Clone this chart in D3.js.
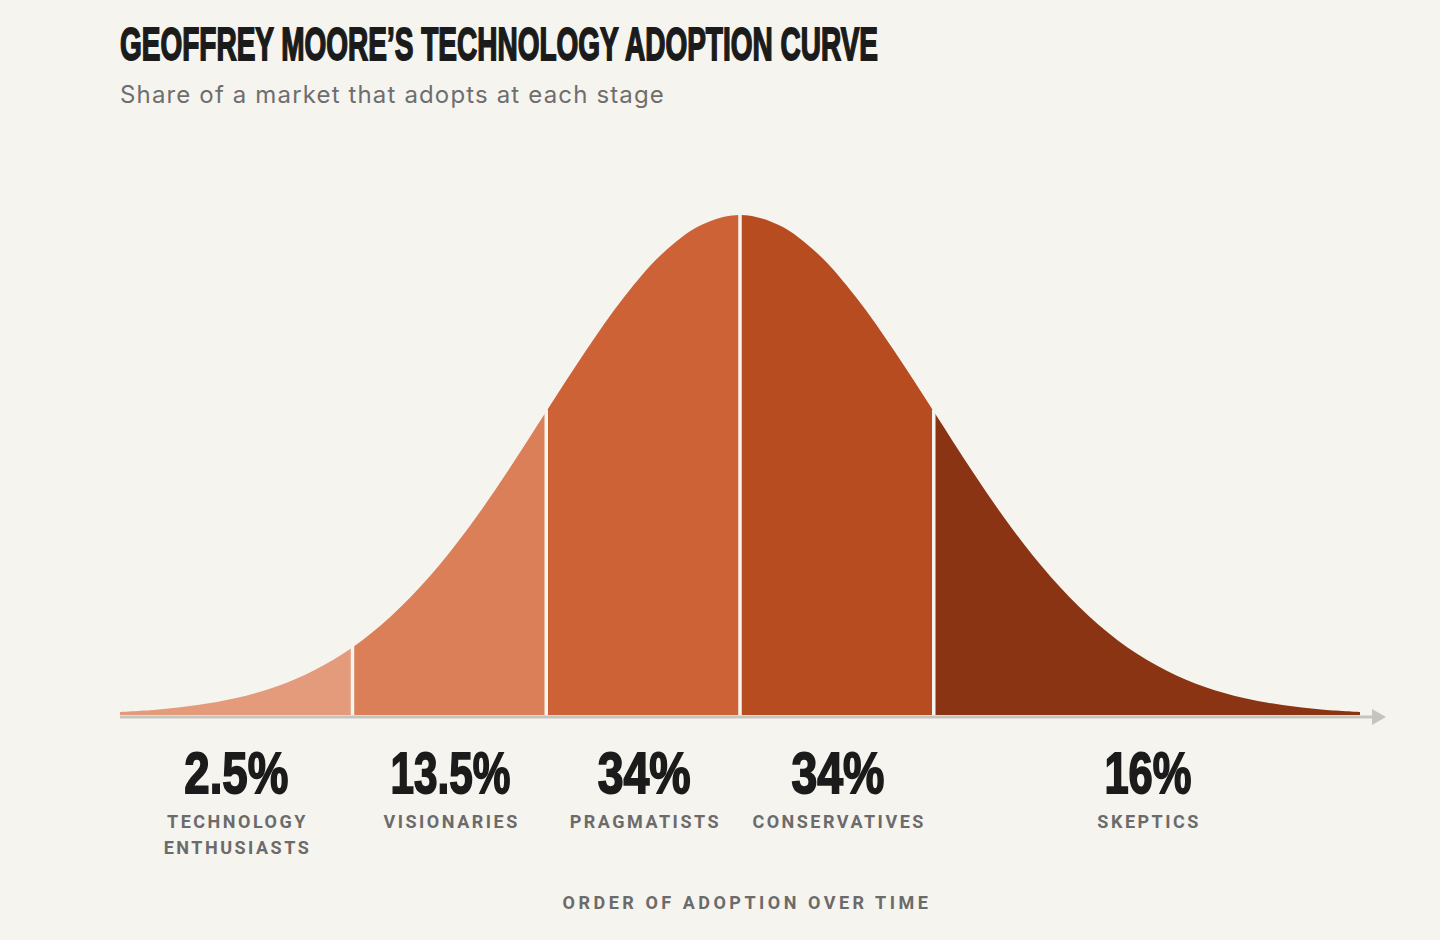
<!DOCTYPE html>
<html>
<head>
<meta charset="utf-8">
<script src="https://cdn.jsdelivr.net/npm/d3@7"></script>
<style>
  html, body { margin: 0; padding: 0; background: #f6f4ee; }
  svg { display: block; }
</style>
</head>
<body>
<svg width="1440" height="940"></svg>
<script>
// Curve height (share of peak, %) read at steps of one fifth of a standard deviation
const zSteps = [-3.2, -3.0, -2.8, -2.6, -2.4, -2.2, -2.0, -1.8, -1.6, -1.4, -1.2, -1.0, -0.8, -0.6, -0.4, -0.2, 0,
                0.2, 0.4, 0.6, 0.8, 1.0, 1.2, 1.4, 1.6, 1.8, 2.0, 2.2, 2.4, 2.6, 2.8, 3.0, 3.2];
const heights = [0.6, 1.1, 2.0, 3.4, 5.6, 8.9, 13.5, 19.8, 27.8, 37.5, 48.7, 60.7, 72.6, 83.5, 92.3, 98.0, 100,
                 98.0, 92.3, 83.5, 72.6, 60.7, 48.7, 37.5, 27.8, 19.8, 13.5, 8.9, 5.6, 3.4, 2.0, 1.1, 0.6];

// Stages
const stageNames = [["TECHNOLOGY", "ENTHUSIASTS"], ["VISIONARIES"], ["PRAGMATISTS"], ["CONSERVATIVES"], ["SKEPTICS"]];
const stageShares = ["2.5%", "13.5%", "34%", "34%", "16%"];
const stageBreaks = [-3.2, -2, -1, 0, 1, 3.2];
const stageColors = ["#e39b7b", "#da7f58", "#cd6236", "#b64c20", "#8a3413"];

const svg = d3.select("svg"),
  width = +svg.attr("width"),
  height = +svg.attr("height");

const x = d3.scaleLinear().domain([-3.2, 3.2]).range([120, 1360]);
const y = d3.scaleLinear().domain([0, 100]).range([715, 215]);

const points = zSteps.map((z, i) => ({ z: z, h: heights[i] }));

const area = d3.area()
  .x(d => x(d.z))
  .y0(y(0))
  .y1(d => y(d.h))
  .curve(d3.curveCatmullRom);

// Title + subtitle
svg.append("text")
  .attr("x", 120).attr("y", 60)
  .attr("font-family", "'Liberation Sans Narrow', 'Arial Narrow', sans-serif")
  .attr("font-weight", 700)
  .attr("font-size", 46)
  .attr("fill", "#1b1b1b")
  .attr("stroke", "#1b1b1b").attr("stroke-width", 1.8)
  .attr("textLength", 758).attr("lengthAdjust", "spacingAndGlyphs")
  .text("GEOFFREY MOORE’S TECHNOLOGY ADOPTION CURVE");

svg.append("text")
  .attr("x", 120).attr("y", 103)
  .attr("font-family", "Inter, 'Noto Sans', sans-serif")
  .attr("font-size", 24)
  .attr("letter-spacing", 1.15)
  .attr("fill", "#6e6e6e")
  .text("Share of a market that adopts at each stage");

// One clipped copy of the curve per stage
const defs = svg.append("defs");
const stages = stageColors.map((c, i) => ({
  i: i, lo: stageBreaks[i], hi: stageBreaks[i + 1], color: c,
  share: stageShares[i], name: stageNames[i]
}));

defs.selectAll("clipPath")
  .data(stages)
  .join("clipPath")
    .attr("id", d => "clip" + d.i)
  .append("rect")
    .attr("x", d => x(d.lo))
    .attr("width", d => x(d.hi) - x(d.lo))
    .attr("y", 0).attr("height", height);

svg.append("g")
  .selectAll("path")
  .data(stages)
  .join("path")
    .attr("d", area(points))
    .attr("fill", d => d.color)
    .attr("clip-path", d => "url(#clip" + d.i + ")");

// white dividers between stages
const inner = stageBreaks.slice(1, -1);
svg.append("g")
  .selectAll("line")
  .data(inner)
  .join("line")
    .attr("x1", d => x(d)).attr("x2", d => x(d))
    .attr("y1", y(0))
    .attr("y2", d => y(heights[zSteps.indexOf(d)]) - 2)
    .attr("stroke", "#f6f4ee")
    .attr("stroke-width", 3.5);

// time axis with arrow
svg.append("line")
  .attr("x1", 120).attr("x2", 1374)
  .attr("y1", 717).attr("y2", 717)
  .attr("stroke", "#c6c4be").attr("stroke-width", 3);
svg.append("path")
  .attr("d", "M1372,709 L1386,717 L1372,725 Z")
  .attr("fill", "#c6c4be");

// stage labels
const shareWidths = [104, 120, 93, 93, 87];
const lab = svg.append("g")
  .selectAll("g")
  .data(stages)
  .join("g")
    .attr("transform", d => `translate(${(x(d.lo) + x(d.hi)) / 2 + (d.i === 0 ? 0 : 1)},0)`);

lab.append("text")
  .attr("y", 793)
  .attr("text-anchor", "middle")
  .attr("font-family", "'Liberation Sans Narrow', 'Arial Narrow', sans-serif")
  .attr("font-weight", 700)
  .attr("font-size", 57)
  .attr("fill", "#1b1b1b")
  .attr("stroke", "#1b1b1b").attr("stroke-width", 1.8)
  .attr("textLength", d => shareWidths[d.i])
  .attr("lengthAdjust", "spacingAndGlyphs")
  .text(d => d.share);

lab.append("text")
  .attr("text-anchor", "middle")
  .attr("font-family", "Roboto, 'Noto Sans', sans-serif")
  .attr("font-weight", 700)
  .attr("font-size", 18)
  .attr("letter-spacing", 2.5)
  .attr("fill", "#6b6b6b")
  .selectAll("tspan")
  .data(d => d.name)
  .join("tspan")
    .attr("x", 1.25)
    .attr("y", (d, j) => 828 + j * 26)
    .text(d => d);

svg.append("text")
  .attr("x", 747).attr("y", 909)
  .attr("text-anchor", "middle")
  .attr("font-family", "Roboto, 'Noto Sans', sans-serif")
  .attr("font-weight", 700)
  .attr("font-size", 18)
  .attr("letter-spacing", 3.5)
  .attr("fill", "#6b6b6b")
  .text("ORDER OF ADOPTION OVER TIME");
</script>
</body>
</html>
